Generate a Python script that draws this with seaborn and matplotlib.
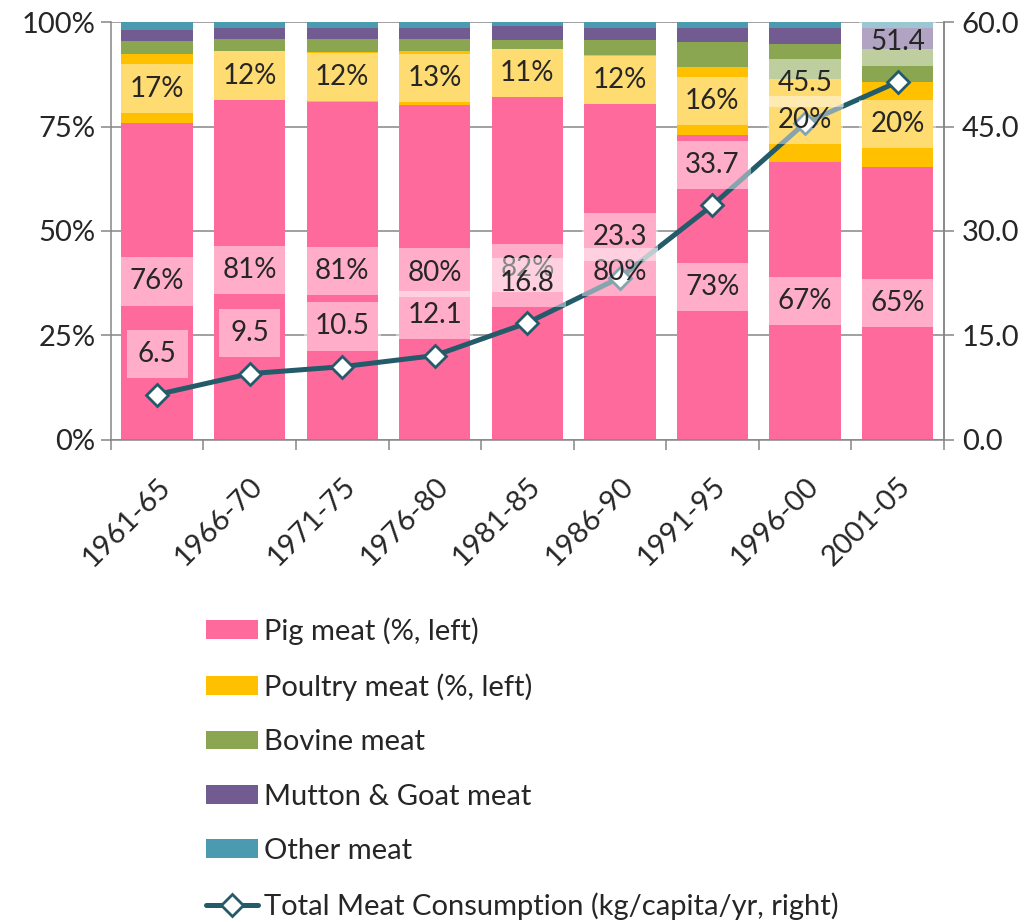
import numpy as np
import pandas as pd
import matplotlib
matplotlib.use('Agg')
import matplotlib.pyplot as plt
from matplotlib.patches import Patch
from matplotlib.lines import Line2D
import seaborn as sns

# data (shares in %, total in kg/capita/yr)
periods = ['1961-65', '1966-70', '1971-75', '1976-80', '1981-85',
           '1986-90', '1991-95', '1996-00', '2001-05']
pig = [75.8, 81.3, 80.9, 80.1, 82.1, 80.3, 73.0, 66.6, 65.4]
poultry = [16.6, 11.8, 11.9, 13.0, 11.4, 11.8, 16.3, 19.9, 20.3]
bovine = [3.1, 2.8, 3.1, 2.8, 2.2, 3.6, 6.0, 8.2, 7.8]
mutton = [2.7, 2.6, 2.7, 2.7, 3.3, 3.0, 3.4, 3.9, 5.1]
other = [1.8, 1.5, 1.4, 1.4, 1.0, 1.3, 1.3, 1.4, 1.4]
total = [6.5, 9.5, 10.5, 12.1, 16.8, 23.3, 33.7, 45.5, 51.4]

series_names = ['Pig meat (%, left)', 'Poultry meat (%, left)', 'Bovine meat',
                'Mutton & Goat meat', 'Other meat']
line_name = 'Total Meat Consumption (kg/capita/yr, right)'
colors = ['#FF6A9C', '#FFC000', '#8BA650', '#725B91', '#4A9AB0']
line_color = '#245B6B'
grey = '#868686'

sns.set_theme(style='white')
plt.rcParams['font.family'] = ['Lato', 'DejaVu Sans']

df = pd.DataFrame({'period': periods, 'pig': pig, 'poultry': poultry,
                   'bovine': bovine, 'mutton': mutton, 'other': other,
                   'total': total})
parts = ['pig', 'poultry', 'bovine', 'mutton', 'other']
cum = df[parts].cumsum(axis=1)

fig = plt.figure(figsize=(10.36, 9.22), dpi=100)
ax = fig.add_axes([0.107, 0.523, 0.804, 0.453])

# stacked bars: draw tallest cumulative first, then overlay
for name, col in reversed(list(zip(parts, colors))):
    sns.barplot(x=df['period'], y=cum[name], color=col, saturation=1,
                width=0.77, linewidth=0, ax=ax, zorder=2)

ax.set_ylim(0, 100)
ax.set_yticks([0, 25, 50, 75, 100])
ax.set_yticklabels(['0%', '25%', '50%', '75%', '100%'], fontsize=21)
ax.set_xlim(-0.5, len(periods) - 0.5)
ax.set_xlabel('')
ax.set_ylabel('')
ax.grid(axis='y', color=grey, lw=1.1, zorder=0)
ax.set_axisbelow(True)
ax.spines['top'].set_visible(False)
for s in ['left', 'bottom', 'right']:
    ax.spines[s].set_color(grey)
    ax.spines[s].set_linewidth(1.1)
ax.tick_params(axis='y', left=True, length=7, width=1.1, color=grey, pad=4)
ax.set_xticks(np.arange(len(periods) + 1) - 0.5, minor=True)
ax.tick_params(axis='x', which='minor', bottom=True, length=7, width=1.1, color=grey)
ax.set_xticks(range(len(periods)))
ax.set_xticklabels(periods, rotation=45, ha='right', rotation_mode='anchor', fontsize=21)
ax.tick_params(axis='x', which='major', bottom=False, pad=18)

ax2 = ax.twinx()
sns.pointplot(x=df['period'], y=df['total'], ax=ax2, color=line_color,
              markers='D', linewidth=3.6, markersize=11,
              markerfacecolor='white', markeredgecolor=line_color,
              markeredgewidth=2, errorbar=None, zorder=3)
ax2.set_ylim(0, 60)
ax2.set_xlim(-0.5, len(periods) - 0.5)
ax2.set_yticks([0, 15, 30, 45, 60])
ax2.set_yticklabels(['0.0', '15.0', '30.0', '45.0', '60.0'], fontsize=21)
ax2.set_ylabel('')
ax2.set_xlabel('')
ax2.grid(False)
for s in ['top', 'left', 'bottom']:
    ax2.spines[s].set_visible(False)
ax2.spines['right'].set_color(grey)
ax2.spines['right'].set_linewidth(1.1)
ax2.tick_params(axis='y', right=True, length=7, width=1.1, color=grey, pad=6)

box = dict(boxstyle='square,pad=0.4', facecolor='white', edgecolor='none', alpha=0.45)

# bar labels for pig and poultry (centre of segment), drawn on ax2 so they sit over the line
for i in range(len(periods)):
    mid_pig = pig[i] / 2
    mid_poul = pig[i] + poultry[i] / 2
    ax2.text(i, mid_pig, f'{pig[i]:.0f}%', transform=ax.transData, ha='center',
             va='center', fontsize=20, bbox=box, zorder=5)
    ax2.text(i, mid_poul, f'{poultry[i]:.0f}%', transform=ax.transData, ha='center',
             va='center', fontsize=20, bbox=box, zorder=5)

# line labels above the markers
for i, v in enumerate(total):
    ax2.annotate(f'{v:.1f}', (i, v), xytext=(0, 29), textcoords='offset points',
                 ha='center', va='center', fontsize=20, bbox=box, zorder=6)

handles = [Patch(facecolor=c, edgecolor='none') for c in colors]
handles.append(Line2D([], [], color=line_color, lw=3.6, marker='D', markersize=11,
                      markerfacecolor='white', markeredgecolor=line_color,
                      markeredgewidth=2))
labels = series_names + [line_name]
fig.legend(handles, labels, loc='upper left', bbox_to_anchor=(0.188, 0.343),
           frameon=False, fontsize=21, labelspacing=0.97, handlelength=1.78,
           handleheight=0.62, handletextpad=0.2, borderaxespad=0)

fig.savefig('out.png', dpi=100)
